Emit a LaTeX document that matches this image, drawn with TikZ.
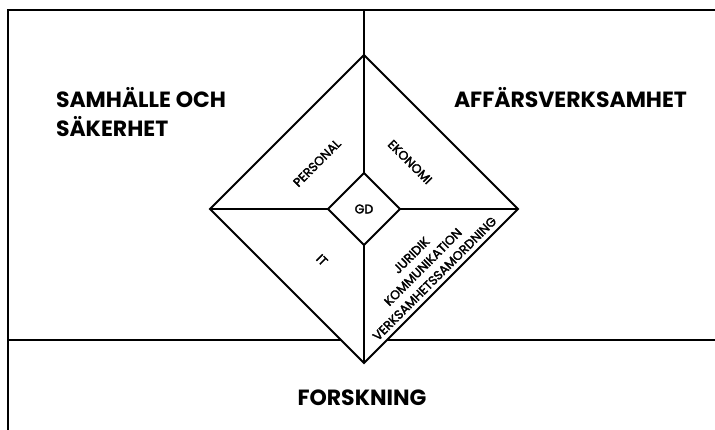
\documentclass[tikz,border=0pt]{standalone}
\usepackage{fontspec}
\setmainfont{Poppins}
\begin{document}
\begin{tikzpicture}[x=1pt, y=-1pt, line width=2pt, line join=miter,
    region/.style={inner sep=0pt, font=\bfseries\fontsize{22}{29}\selectfont},
    unit/.style={inner sep=0pt, font=\addfontfeature{FakeBold=2.5}\fontsize{12.5}{16.5}\selectfont, align=center}]
  \useasboundingbox (0,0) rectangle (715,430);

  \coordinate (top) at (364,55);
  \coordinate (left) at (210,209);
  \coordinate (right) at (518,209);
  \coordinate (bottom) at (364,363);
  \coordinate (gdtop) at (364,173);
  \coordinate (gdleft) at (328,209);
  \coordinate (gdright) at (400,209);
  \coordinate (gdbottom) at (364,245);

  \draw (715,10) -- (8,10) -- (8,430);
  \draw (364,10) -- (top);
  \draw (8,340) -- (341,340);
  \draw (387,340) -- (715,340);

  \draw (top) -- (right) -- (bottom) -- (left) -- cycle;
  \draw (gdtop) -- (gdright) -- (gdbottom) -- (gdleft) -- cycle;
  \draw (top) -- (gdtop);
  \draw (left) -- (gdleft);
  \draw (right) -- (gdright);
  \draw (bottom) -- (gdbottom);

  \node[region, anchor=north west, align=left] (samhalle) at (55,86) {SAMHÄLLE OCH\\SÄKERHET};
  \node[region, anchor=base west] (affar) at (453,108) {AFFÄRSVERKSAMHET};
  \node[region, anchor=base] (forskning) at (362,405) {FORSKNING};

  \node[unit] (gd) at (364,209) {GD};
  \node[unit, rotate=45] (personal) at (317,163) {PERSONAL};
  \node[unit, rotate=-45] (ekonomi) at (410,162) {EKONOMI};
  \node[unit, rotate=-45] (it) at (322,260) {IT};
  \node[unit, rotate=45] (juridik) at (423,267) {JURIDIK\\KOMMUNIKATION\\VERKSAMHETSSAMORDNING};
\end{tikzpicture}
\end{document}
